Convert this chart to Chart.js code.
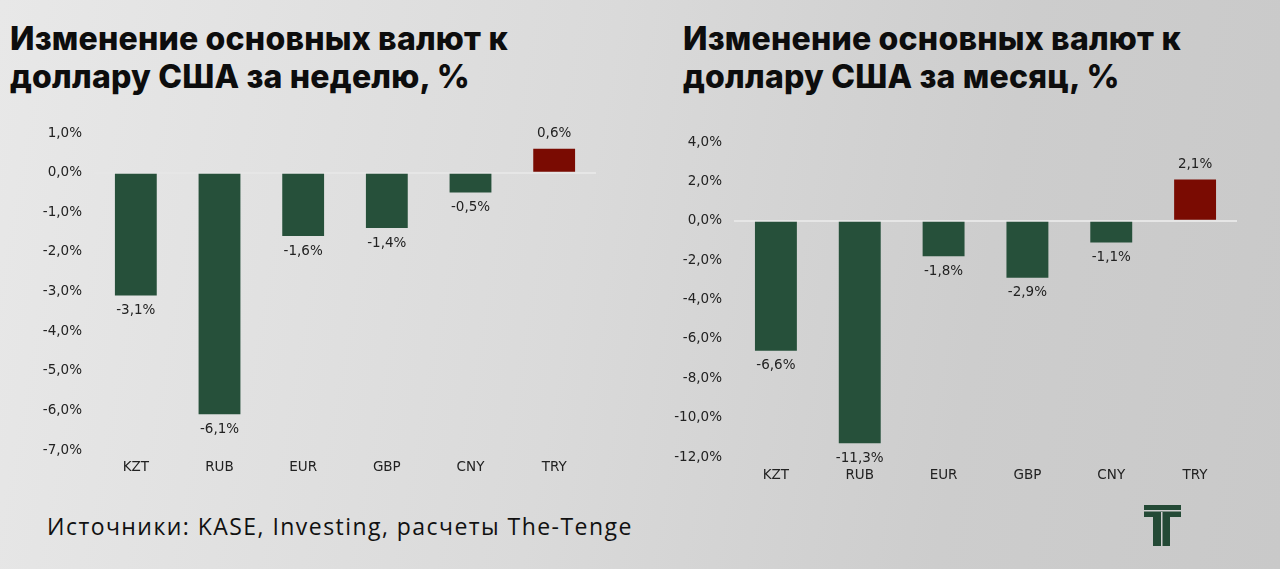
<!DOCTYPE html>
<html>
<head>
<meta charset="utf-8">
<script src="https://cdn.jsdelivr.net/npm/chart.js@4.4.1/dist/chart.umd.min.js"></script>
<style>
  html, body { margin:0; padding:0; }
  body {
    width:1280px; height:569px; overflow:hidden; position:relative;
    background: linear-gradient(100deg, #e8e8e8 0%, #dadada 45%, #cdcdcd 75%, #c9c9c9 100%);
    font-family: "Open Sans", "Noto Sans", sans-serif;
  }
  .title {
    position:absolute; top:20px; font-family: Inter, "Open Sans", sans-serif;
    font-weight:800; font-size:32px; line-height:38px; color:#0d0d0d; letter-spacing:0.2px;
  }
  .src {
    position:absolute; left:47px; top:510px; font-size:23px; color:#111; letter-spacing:1.45px;
    font-family: "Open Sans", sans-serif;
  }
  canvas { position:absolute; top:0; }
  #logo { position:absolute; left:1144px; top:505px; }
</style>
</head>
<body>
<div class="title" style="left:10px">Изменение основных валют к<br>доллару США за неделю, %</div>
<div class="title" style="left:683px">Изменение основных валют к<br>доллару США за месяц, %</div>
<div class="src">Источники: KASE, Investing, расчеты The-Tenge</div>
<svg id="logo" width="37" height="42" viewBox="0 0 37 42">
  <rect x="0" y="0" width="37" height="12" fill="#244a36"/>
  <rect x="0" y="5" width="37" height="1.5" fill="#cfcfcf"/>
  <rect x="9" y="12" width="17" height="29" fill="#244a36"/>
  <rect x="17" y="7" width="1.5" height="34" fill="#cfcfcf"/>
</svg>
<canvas id="c1" width="640" height="569" style="left:0;width:640px;height:569px"></canvas>
<canvas id="c2" width="640" height="569" style="left:640px;width:640px;height:569px"></canvas>
<script>
const categories = ["KZT", "RUB", "EUR", "GBP", "CNY", "TRY"];
const weekValues = [-3.1, -6.1, -1.6, -1.4, -0.5, 0.6];
const monthValues = [-6.6, -11.3, -1.8, -2.9, -1.1, 2.1];
const weekTicks = [1, 0, -1, -2, -3, -4, -5, -6, -7];
const monthTicks = [4, 2, 0, -2, -4, -6, -8, -10, -12];

const GREEN = "#26503a";
const RED = "#7a0b02";
const fmt = v => v.toFixed(1).replace(".", ",") + "%";
const FAMILY = "'DejaVu Sans', 'Open Sans', sans-serif";
const FONT = { family: FAMILY, size: 13.5 };

const labelPlugin = {
  id: "vlabels",
  afterDatasetsDraw(chart) {
    const ctx = chart.ctx;
    const meta = chart.getDatasetMeta(0);
    const data = chart.data.datasets[0].data;
    ctx.save();
    ctx.font = "13.5px " + FAMILY;
    ctx.fillStyle = "#222";
    ctx.textAlign = "center";
    ctx.textBaseline = "middle";
    meta.data.forEach((bar, i) => {
      const v = data[i];
      const y = v < 0 ? bar.y + 15 : bar.y - 15;
      ctx.fillText(fmt(v), bar.x, y);
    });
    ctx.restore();
  }
};

function makeChart(id, values, ticks, padTop, padBottom, padRight, xPad) {
  const tmin = Math.min(...ticks), tmax = Math.max(...ticks);
  return new Chart(document.getElementById(id), {
    type: "bar",
    data: {
      labels: categories,
      datasets: [{
        data: values,
        backgroundColor: values.map(v => v >= 0 ? RED : GREEN),
        categoryPercentage: 1.0,
        barPercentage: 0.5
      }]
    },
    options: {
      responsive: false,
      animation: false,
      devicePixelRatio: 1,
      layout: { padding: { top: padTop, bottom: padBottom, left: 0, right: padRight } },
      plugins: { legend: { display: false }, tooltip: { enabled: false } },
      scales: {
        x: {
          grid: { display: false },
          border: { display: false },
          ticks: { color: "#222", font: FONT, padding: xPad },
          afterFit(s) { s.height = 30; }
        },
        y: {
          min: tmin, max: tmax,
          afterBuildTicks(s) { s.ticks = ticks.map(v => ({ value: v })); },
          grid: {
            drawTicks: false,
            lineWidth: 2,
            color: c => (c.tick && c.tick.value === 0) ? "#e6e6e6" : "rgba(0,0,0,0)"
          },
          border: { display: false },
          ticks: { color: "#222", font: FONT, padding: 12, callback: v => fmt(v) },
          afterFit(s) { s.width = 94; }
        }
      }
    },
    plugins: [labelPlugin]
  });
}

makeChart("c1", weekValues, weekTicks, 133, 569 - 450 - 30, 44, 1);
makeChart("c2", monthValues, monthTicks, 142, 569 - 457 - 30, 43, 2);
</script>
</body>
</html>
